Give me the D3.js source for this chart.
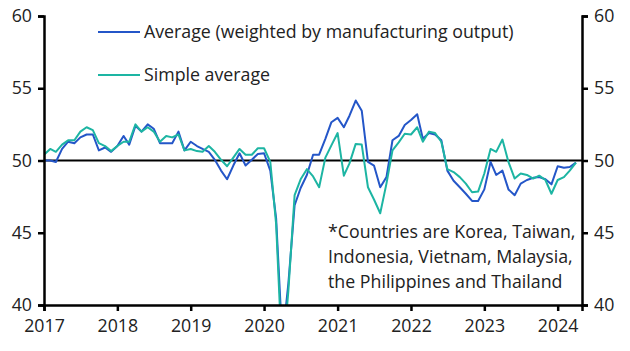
<!DOCTYPE html>
<html><head><meta charset="utf-8">
<script src="https://cdn.jsdelivr.net/npm/d3@7/dist/d3.min.js"></script>
<style>
html,body{margin:0;padding:0;background:#fff;}
svg{display:block;}
text{font-family:"Open Sans",Lato,sans-serif;fill:#222;}
</style></head>
<body>
<svg id="chart" width="630" height="351"></svg>
<script>
// Monthly PMI values, Jan 2017 – Apr 2024
const startMonth = "2017-01";
const weighted = [
50.0,50.0,49.9,50.8,51.3,51.2,51.6,51.8,51.8,50.7,50.9,50.6,
51.0,51.7,51.1,52.4,52.0,52.5,52.2,51.2,51.2,51.2,52.0,50.7,
51.3,51.0,50.8,50.6,50.05,49.3,48.7,49.65,50.5,49.65,50.05,50.45,
50.5,49.3,46.0,37.5,41.5,46.9,48.1,49.0,50.4,50.4,51.5,52.65,
52.95,52.3,53.1,54.15,53.45,49.9,49.65,48.15,48.85,51.4,51.7,52.45,
52.8,53.2,51.5,51.9,51.8,51.4,49.3,48.6,48.15,47.7,47.2,47.2,
48.0,49.9,49.0,49.3,48.0,47.6,48.4,48.65,48.8,48.85,48.7,48.35,
49.6,49.5,49.55,49.85
];
const simple = [
50.4,50.8,50.6,51.1,51.4,51.4,52.0,52.3,52.1,51.2,51.0,50.65,
51.0,51.3,51.3,52.5,52.0,52.3,52.0,51.3,51.7,51.6,51.8,50.7,
50.8,50.65,50.6,51.0,50.6,50.05,49.6,50.2,50.8,50.4,50.4,50.85,
50.85,49.9,45.6,36.0,41.0,47.6,48.7,49.4,48.9,48.15,50.2,51.05,
51.9,48.95,49.8,51.15,51.1,48.15,47.3,46.35,48.4,50.7,51.25,51.85,
51.8,52.3,51.3,52.0,51.9,51.3,49.4,49.2,48.85,48.4,47.8,47.85,
49.1,50.8,50.6,51.45,49.9,48.75,49.1,49.0,48.75,48.95,48.65,47.7,
48.65,48.85,49.3,49.85
];
const yearTicks = [2017,2018,2019,2020,2021,2022,2023,2024];
const yTicks = [40,45,50,55,60];
const seriesNames = ["Average (weighted by manufacturing output)","Simple average"];
const seriesColors = ["#2456c8","#1db5a3"];
const noteLines = ["*Countries are Korea, Taiwan,","Indonesia, Vietnam, Malaysia,","the Philippines and Thailand"];

const parseM = d3.timeParse("%Y-%m");
const t0 = parseM(startMonth);
const dates = weighted.map((_, i) => d3.timeMonth.offset(t0, i));

const L = 44, R = 582, T = 16, B = 305;
const svg = d3.select("#chart");
const x = d3.scaleTime().domain([t0, new Date(2024, 4, 1)]).range([L, R]);
const y = d3.scaleLinear().domain([40, 60]).range([B, T]);

// pick font size so the legend text spans the same width as in the reference (~372px)
const probe = svg.append("text").attr("font-size", 17).text(seriesNames[0]);
const fs = Math.min(19, 17 * 370 / probe.node().getComputedTextLength());
probe.remove();

svg.append("defs").append("clipPath").attr("id","clip")
  .append("rect").attr("x", L).attr("y", T).attr("width", R - L).attr("height", B - T);

// 50 reference line
svg.append("line").attr("x1", L).attr("x2", R).attr("y1", y(50)).attr("y2", y(50))
  .attr("stroke", "#000").attr("stroke-width", 2);

const line = d3.line().x((d, i) => x(dates[i])).y(d => y(d));
const g = svg.append("g").attr("clip-path", "url(#clip)");
[weighted, simple].forEach((s, k) => {
  g.append("path").datum(s).attr("d", line).attr("fill", "none")
    .attr("stroke", seriesColors[k]).attr("stroke-width", 2).attr("stroke-linejoin","round");
});

// axes
const leftAxis = d3.axisLeft(y).tickValues(yTicks).tickSize(6).tickPadding(6);
const rightAxis = d3.axisRight(y).tickValues(yTicks).tickSize(6).tickPadding(6);
const bottomAxis = d3.axisBottom(x).tickValues(yearTicks.map(v => new Date(v, 0, 1)))
  .tickFormat(d3.timeFormat("%Y")).tickSize(6).tickPadding(8);

function styleAxis(sel) {
  sel.select(".domain").attr("stroke", "#000").attr("stroke-width", 2.5);
  sel.selectAll(".tick line").attr("stroke", "#000").attr("stroke-width", 2.5);
  sel.selectAll(".tick text").attr("font-size", fs).attr("fill", "#222")
    .style("font-family", "'Open Sans', Lato, sans-serif");
}
svg.append("g").attr("transform", `translate(${L},0)`).call(leftAxis).call(styleAxis);
svg.append("g").attr("transform", `translate(${R},0)`).call(rightAxis).call(styleAxis);
svg.append("g").attr("transform", `translate(0,${B})`).call(bottomAxis).call(styleAxis);

// legend
const legY = [32, 75];
seriesNames.forEach((n, k) => {
  svg.append("line").attr("x1", 98).attr("x2", 140).attr("y1", legY[k]).attr("y2", legY[k])
    .attr("stroke", seriesColors[k]).attr("stroke-width", 2);
  svg.append("text").attr("x", 144).attr("y", legY[k] + 6).attr("font-size", fs).text(n);
});

// note
noteLines.forEach((t, i) => {
  svg.append("text").attr("x", 328).attr("y", 238 + i * 25).attr("font-size", fs).text(t);
});
</script>
</body></html>
